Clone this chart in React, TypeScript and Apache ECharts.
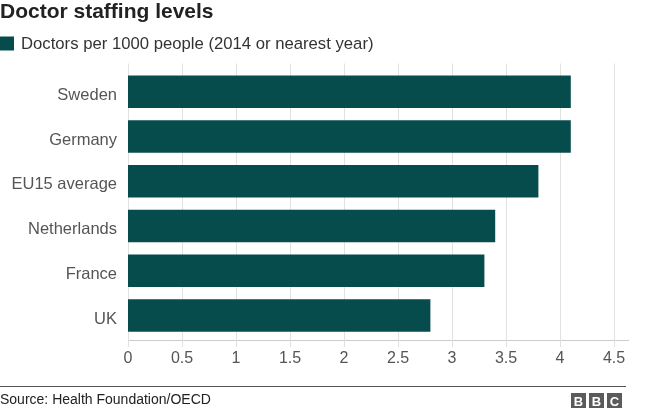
import React, { useEffect, useRef } from "react";
import * as echarts from "echarts";

const categories = ["Sweden", "Germany", "EU15 average", "Netherlands", "France", "UK"];
const doctorsPer1000 = [4.1, 4.1, 3.8, 3.4, 3.3, 2.8];
const seriesName = "Doctors per 1000 people (2014 or nearest year)";
const titleText = "Doctor staffing levels";
const sourceText = "Source: Health Foundation/OECD";

const FONT = "'Liberation Sans', Arial, Helvetica, sans-serif";
const BAR = "#074c4c";
const GRID = "#e1e1e1";
const LABEL = "#555555";

export default function App() {
  const ref = useRef<HTMLDivElement>(null);
  useEffect(() => {
    if (!ref.current) return;
    const chart = echarts.init(ref.current, null, { renderer: "svg" });
    const bbcBlocks = ["B", "B", "C"].map((ch, i) => ({
      type: "group",
      x: 571 + i * 18,
      y: 393,
      children: [
        { type: "rect", shape: { x: 0, y: 0, width: 15, height: 15 }, style: { fill: "#5b5b5b" } },
        {
          type: "text",
          x: 7.5,
          y: 8,
          style: {
            text: ch,
            fill: "#ffffff",
            font: `bold 13px ${FONT}`,
            align: "center",
            verticalAlign: "middle",
          },
        },
      ],
    }));
    chart.setOption({
      animation: false,
      textStyle: { fontFamily: FONT },
      title: {
        text: titleText,
        left: 0,
        top: 0,
        padding: 0,
        textStyle: { fontSize: 21, fontWeight: "bold", color: "#222222", fontFamily: FONT },
      },
      legend: {
        left: 0,
        top: 35,
        padding: 0,
        itemWidth: 14,
        itemHeight: 14,
        icon: "rect",
        data: [seriesName],
        textStyle: { fontSize: 16.7, color: "#333333", fontFamily: FONT, padding: [0, 0, 0, 2] },
      },
      grid: { left: 128, right: 46, top: 71.5, height: 268.5, containLabel: false },
      xAxis: [
        {
          type: "value",
          min: 0,
          max: 4.5,
          interval: 0.5,
          axisLine: { show: false },
          axisTick: { show: true, length: 7, lineStyle: { color: GRID } },
          splitLine: { show: true, lineStyle: { color: GRID, width: 1 } },
          axisLabel: { fontSize: 16, color: LABEL, margin: 9, fontFamily: FONT },
        },
        {
          type: "value",
          position: "top",
          min: 0,
          max: 4.5,
          interval: 0.5,
          axisLine: { show: false },
          axisTick: { show: true, length: 8, lineStyle: { color: GRID } },
          splitLine: { show: false },
          axisLabel: { show: false },
        },
      ],
      yAxis: {
        type: "category",
        inverse: true,
        data: categories,
        axisLine: { show: false },
        axisTick: { show: false },
        axisLabel: { fontSize: 16.5, color: LABEL, margin: 11, fontFamily: FONT },
      },
      series: [
        {
          name: seriesName,
          type: "bar",
          data: doctorsPer1000,
          barWidth: 32.5,
          itemStyle: { color: BAR },
        },
        {
          type: "bar",
          xAxisIndex: 1,
          data: [],
        },
      ],
      graphic: [
        { type: "line", shape: { x1: 128, y1: 340.5, x2: 629, y2: 340.5 }, style: { stroke: "#cccccc", lineWidth: 1 } },
        { type: "line", shape: { x1: 0, y1: 386.5, x2: 626, y2: 386.5 }, style: { stroke: "#555555", lineWidth: 1 } },
        {
          type: "text",
          x: 0,
          y: 399,
          style: { text: sourceText, font: `14px ${FONT}`, fill: "#222222", verticalAlign: "middle" },
        },
        ...bbcBlocks,
      ],
    });
    return () => chart.dispose();
  }, []);
  return <div ref={ref} style={{ position: "fixed", left: 0, top: 0, width: 660, height: 412 }} />;
}
